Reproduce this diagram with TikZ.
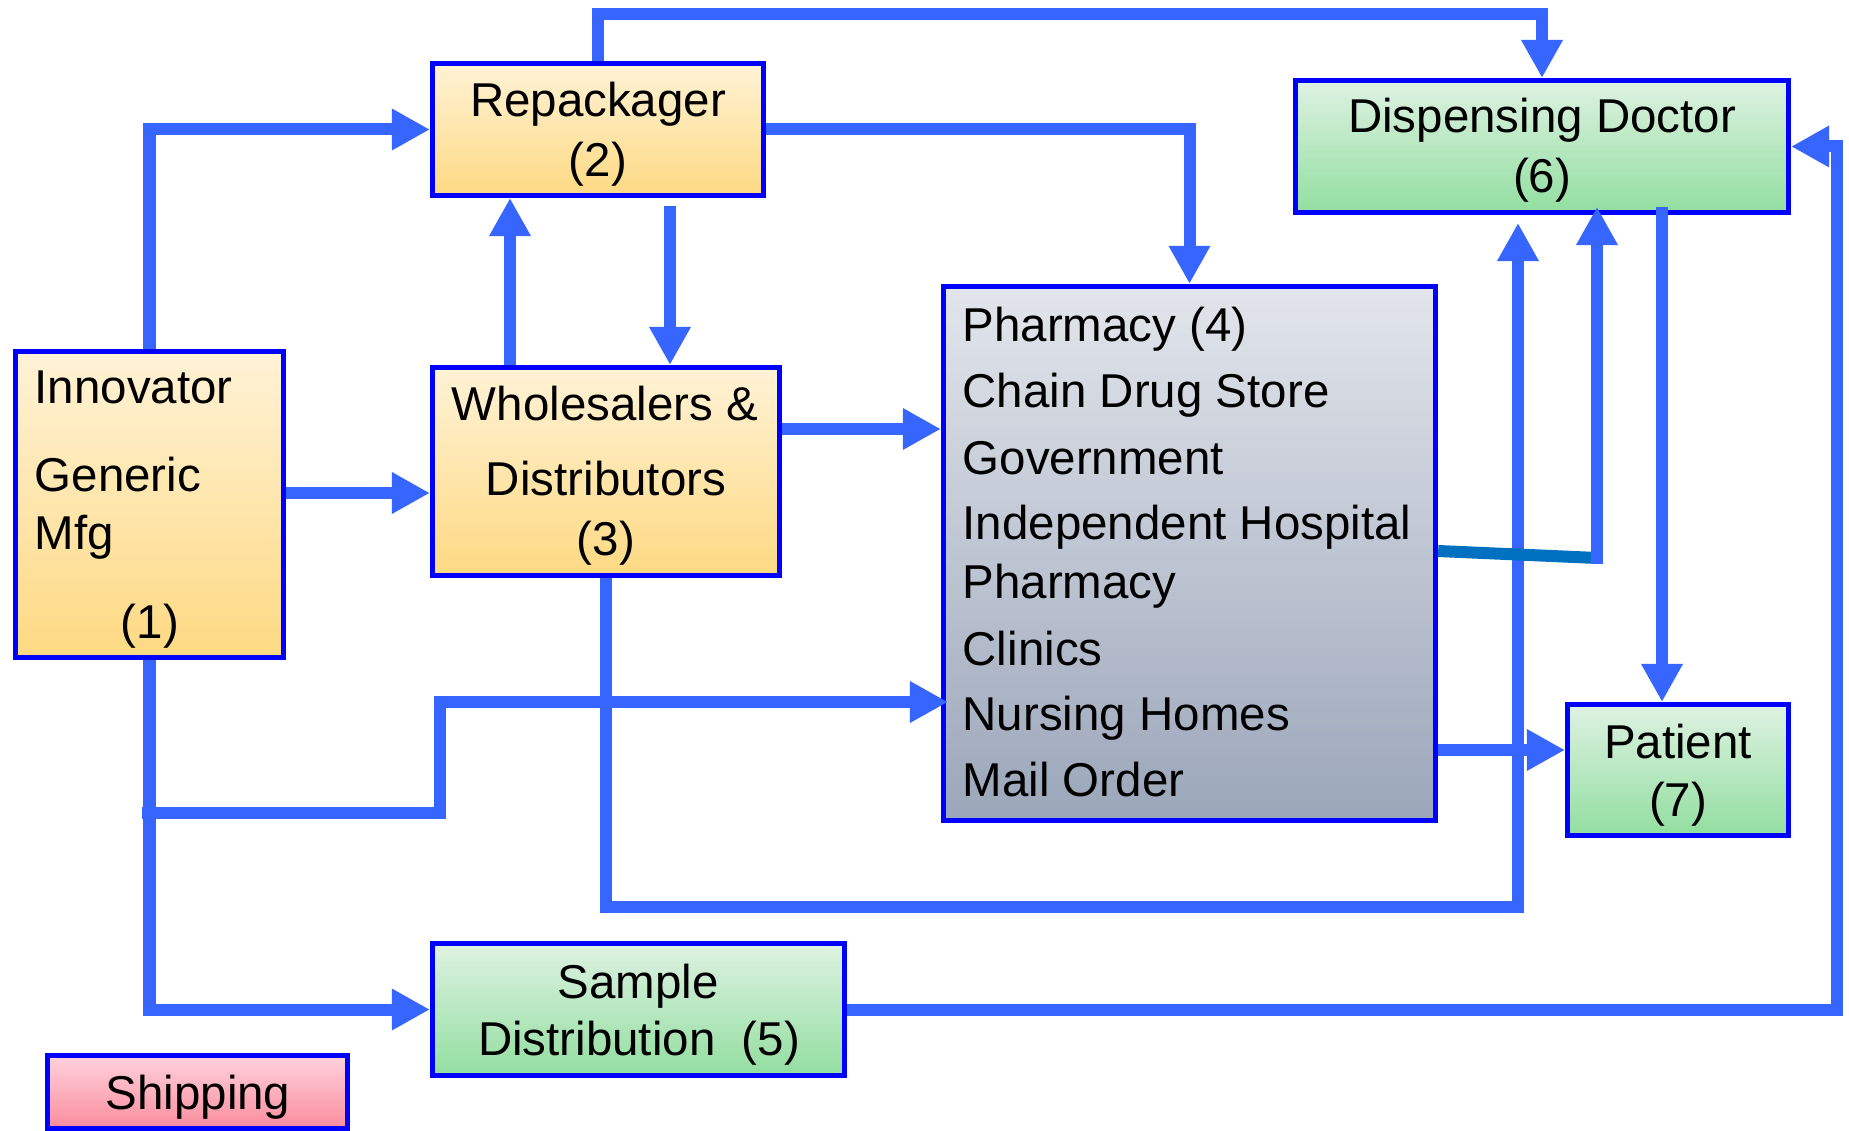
\documentclass[tikz,border=0pt]{standalone}
\usepackage{fontspec}
\setmainfont{Liberation Sans}
\usetikzlibrary{arrows.meta}
\definecolor{conn}{RGB}{54,102,255}
\definecolor{bord}{RGB}{0,0,255}
\definecolor{darkline}{RGB}{0,112,192}
\definecolor{orTop}{RGB}{255,242,214}
\definecolor{orBot}{RGB}{253,217,130}
\definecolor{grTop}{RGB}{222,242,226}
\definecolor{grBot}{RGB}{146,222,160}
\definecolor{gyTop}{RGB}{226,229,235}
\definecolor{gyBot}{RGB}{155,166,186}
\definecolor{pkTop}{RGB}{255,210,220}
\definecolor{pkBot}{RGB}{250,140,158}
\begin{document}
\begin{tikzpicture}[x=0.01cm,y=-0.01cm,
  box/.style={draw=bord, line width=0.05cm, inner sep=0pt},
  orbox/.style={box, top color=orTop, bottom color=orBot},
  grbox/.style={box, top color=grTop, bottom color=grBot},
  gybox/.style={box, top color=gyTop, bottom color=gyBot},
  pkbox/.style={box, top color=pkTop, bottom color=pkBot},
  txt/.style={anchor=base, inner sep=0pt, font=\fontsize{13.5pt}{16pt}\selectfont},
  ltxt/.style={txt, anchor=base west},
  cline/.style={draw=conn, line width=0.12cm, line join=miter},
  arr/.style={cline, -{Triangle[length=0.38cm, width=0.39cm]}}
]
\useasboundingbox (0,0) rectangle (1849,1131);
\fill[white] (0,0) rectangle (1849,1131);

% boxes
\node[orbox, minimum width=2.68cm, minimum height=3.06cm] (inn) at (149.5,504.5) {};
\node[orbox, minimum width=3.31cm, minimum height=1.32cm] (rep) at (598,129.5) {};
\node[orbox, minimum width=3.47cm, minimum height=2.08cm] (whl) at (606,471.5) {};
\node[gybox, minimum width=4.92cm, minimum height=5.34cm] (pha) at (1189.5,553.5) {};
\node[grbox, minimum width=4.93cm, minimum height=1.32cm] (doc) at (1542,146.5) {};
\node[grbox, minimum width=2.21cm, minimum height=1.31cm] (pat) at (1678,770) {};
\node[grbox, minimum width=4.12cm, minimum height=1.32cm] (smp) at (638.5,1009.5) {};
\node[pkbox, minimum width=3.00cm, minimum height=0.73cm] (shp) at (197.5,1092) {};

% texts
\node[ltxt] (t1a) at (34,404) {Innovator};
\node[ltxt] (t1b) at (34,492) {Generic};
\node[ltxt] (t1c) at (34,550) {Mfg};
\node[txt] (t1d) at (150,638) {(1)};
\node[txt] (t2a) at (598,117) {Repackager};
\node[txt] (t2b) at (598,177) {(2)};
\node[txt] (t3a) at (605,421) {Wholesalers \&};
\node[txt] (t3b) at (606,496) {Distributors};
\node[txt] (t3c) at (606,556) {(3)};
\node[ltxt] (t4a) at (962,342) {Pharmacy (4)};
\node[ltxt] (t4b) at (962,408) {Chain Drug Store};
\node[ltxt] (t4c) at (962,475) {Government};
\node[ltxt] (t4d) at (962,540) {Independent Hospital};
\node[ltxt] (t4e) at (962,598) {Pharmacy};
\node[ltxt] (t4f) at (962,665) {Clinics};
\node[ltxt] (t4g) at (962,730) {Nursing Homes};
\node[ltxt] (t4h) at (962,796) {Mail Order};
\node[txt] (t5a) at (638,998) {Sample};
\node[txt] (t5b) at (639,1055) {Distribution\ \ (5)};
\node[txt] (t6a) at (1542,133) {Dispensing Doctor};
\node[txt] (t6b) at (1542,193) {(6)};
\node[txt] (t7a) at (1678,758) {Patient};
\node[txt] (t7b) at (1678,816) {(7)};
\node[txt] (t8) at (198,1109) {Shipping};

% helper coordinates
\coordinate (ytop) at (0,14);
\coordinate (x510) at (510,0);
\coordinate (r4) at (670,206);
\coordinate (y493) at (0,493);
\coordinate (y429) at (0,429);
\coordinate (b1) at (142,813);
\coordinate (b2) at (440,813);
\coordinate (b3) at (440,702);
\coordinate (n1) at (948,702);
\coordinate (x606) at (606,0);
\coordinate (w1) at (606,907);
\coordinate (d10) at (1518,223);
\coordinate (h1) at (1597,558);
\coordinate (h2) at (1597,207);
\coordinate (y551) at (0,551);
\coordinate (p1) at (1662,207);
\coordinate (y750) at (0,750);
\coordinate (xr) at (1837,0);

% connectors
\draw[arr] (inn.north) |- (rep.west);
\draw[arr] (rep.north) -- (rep.north |- ytop) -| (doc.north);
\draw[arr] (rep.east) -| (pha.north);
\draw[arr] (r4) -- (r4 |- whl.north);
\draw[arr] (whl.north -| x510) -- (rep.south -| x510);
\draw[arr] (inn.east |- y493) -- (whl.west |- y493);
\draw[arr] (whl.east |- y429) -- (pha.west |- y429);
\draw[arr] (inn.south) |- (smp.west);
\draw[arr] (b1) -- (b2) -- (b3) -- (n1);
\draw[arr] (whl.south -| x606) -- (w1) -| (d10);
\draw[draw=darkline, line width=0.12cm] (pha.east |- y551) -- (h1);
\draw[arr] ([yshift=-0.06cm]h1) -- (h2);
\draw[arr] (p1) -- (p1 |- pat.north);
\draw[arr] (pha.east |- y750) -- (pat.west |- y750);
\draw[arr] (smp.east) -- (smp.east -| xr) |- (doc.east);
\end{tikzpicture}
\end{document}
